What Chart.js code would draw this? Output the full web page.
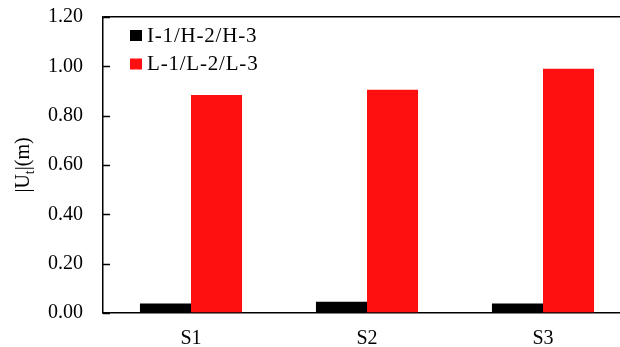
<!DOCTYPE html>
<html>
<head>
<meta charset="utf-8">
<script src="https://cdn.jsdelivr.net/npm/chart.js@4/dist/chart.umd.min.js"></script>
<style>
  html, body { margin: 0; padding: 0; background: #fff; overflow: hidden; }
  /* the plot runs past the right edge of the picture, so the canvas is wider than the view */
  #wrap { width: 620px; height: 347px; overflow: hidden; }
</style>
</head>
<body>
<div id="wrap"><canvas id="barChart" width="632" height="347"></canvas></div>
<script>
// data
const categories = ['S1', 'S2', 'S3'];
const seriesNames = ['I-1/H-2/H-3', 'L-1/L-2/L-3'];
const seriesI = [0.039, 0.046, 0.039];
const seriesL = [0.884, 0.905, 0.990];
const yTicks = [0, 0.2, 0.4, 0.6, 0.8, 1.0, 1.2];

const FONT = 'Liberation Serif, Times New Roman, serif';

// inner tick marks on the y axis, legend inside the plot, y title with subscript
const axisExtras = {
    id: 'axisExtras',
    afterDraw(chart) {
        const ctx = chart.ctx;
        const area = chart.chartArea;
        const y = chart.scales.y;
        ctx.save();
        ctx.strokeStyle = '#000';
        ctx.lineWidth = 1.5;
        y.ticks.forEach(function(t, i) {
            const py = Math.round(y.getPixelForTick(i)) + 0.5;
            ctx.beginPath();
            ctx.moveTo(y.right, py);
            ctx.lineTo(y.right + 7, py);
            ctx.stroke();
        });

        // legend
        ctx.save();
        ctx.font = '21px ' + FONT;
        ctx.letterSpacing = '0.8px';
        ctx.textBaseline = 'middle';
        ctx.textAlign = 'left';
        chart.data.datasets.forEach(function(ds, i) {
            const cy = area.top + 18 + i * 28.5;
            ctx.fillStyle = ds.backgroundColor;
            ctx.fillRect(area.left + 27, cy - 5, 12, 11);
            ctx.fillStyle = '#000';
            ctx.fillText(ds.label, area.left + 44, cy + 1);
        });
        ctx.restore();

        // |Ut|(m) rotated
        const cy = (area.top + area.bottom) / 2;
        ctx.translate(24, cy);
        ctx.rotate(-Math.PI / 2);
        ctx.fillStyle = '#000';
        ctx.textBaseline = 'middle';
        const big = '20px ' + FONT, small = '14px ' + FONT;
        ctx.font = big;
        const a = '|U', c = '|(m)';
        const wa = ctx.measureText(a).width;
        const wc = ctx.measureText(c).width;
        ctx.font = small;
        const wb = ctx.measureText('t').width;
        let x = -(wa + wb + wc) / 2;
        ctx.font = big;
        ctx.fillText(a, x, 0);
        x += wa;
        ctx.font = small;
        ctx.fillText('t', x, 6);
        x += wb;
        ctx.font = big;
        ctx.fillText(c, x, 0);
        ctx.restore();
    }
};

const chartCtx = document.getElementById('barChart').getContext('2d');
const barChart = new Chart(chartCtx, {
    type: 'bar',
    data: {
        labels: categories,
        datasets: [{
            label: seriesNames[0],
            data: seriesI,
            backgroundColor: '#000000',
            borderWidth: 0
        }, {
            label: seriesNames[1],
            data: seriesL,
            backgroundColor: 'rgb(255,16,16)',
            borderWidth: 0
        }]
    },
    options: {
        responsive: false,
        animation: false,
        layout: { padding: { top: 17, right: 1, left: 0, bottom: 0 } },
        datasets: {
            bar: { categoryPercentage: 0.58, barPercentage: 1.0 }
        },
        plugins: {
            legend: { display: false },
            tooltip: { enabled: false }
        },
        scales: {
            x: {
                grid: { display: false, drawTicks: false },
                border: { display: true, color: '#000', width: 1.5 },
                ticks: {
                    font: { family: FONT, size: 20 },
                    color: '#000',
                    padding: 14
                },
                afterFit: function(scale) {
                    scale.height = 34;
                    scale.paddingLeft = 0;
                    scale.paddingRight = 0;
                }
            },
            y: {
                min: 0,
                max: 1.2,
                afterBuildTicks: function(scale) {
                    scale.ticks = yTicks.map(v => ({ value: v }));
                },
                grid: {
                    drawTicks: false,
                    color: ctx => (ctx.tick && ctx.tick.value === 1.2) ? '#000' : 'rgba(0,0,0,0)',
                    lineWidth: 1.5
                },
                border: { display: true, color: '#000', width: 1.5 },
                ticks: {
                    font: { family: FONT, size: 20 },
                    color: '#000',
                    padding: 20,
                    callback: v => Number(v).toFixed(2)
                },
                afterFit: function(scale) {
                    scale.width = 103;
                    scale.paddingTop = 0;
                    scale.paddingBottom = 0;
                }
            }
        }
    },
    plugins: [axisExtras]
});
</script>
</body>
</html>
